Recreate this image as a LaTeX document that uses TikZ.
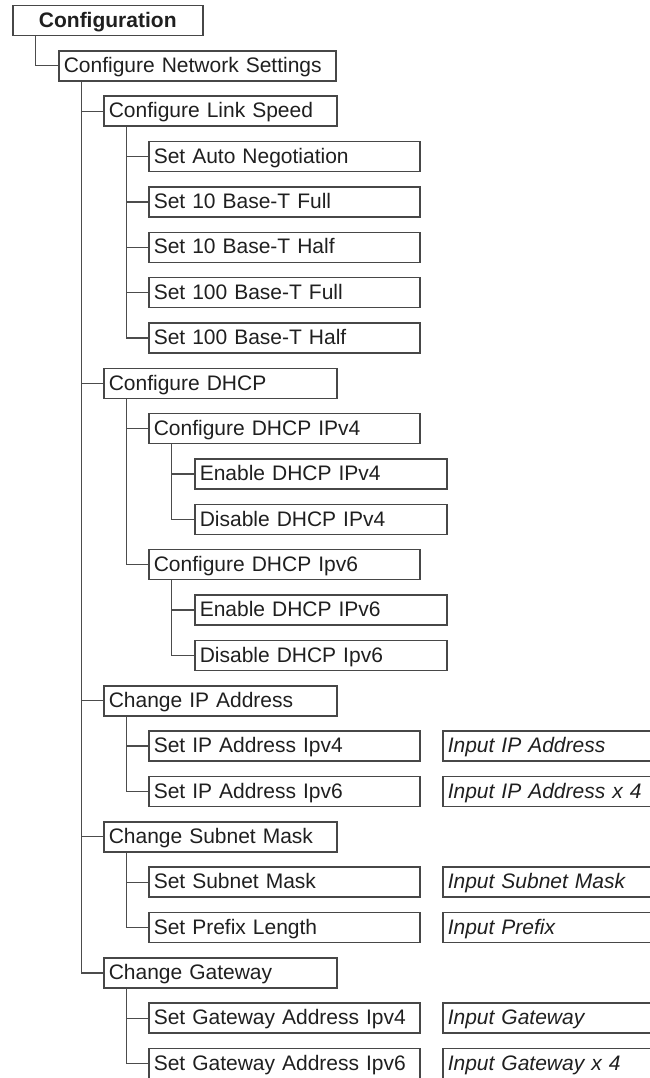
\documentclass[tikz,border=0pt]{standalone}
\usepackage{fontspec}
\setmainfont{Liberation Sans}
\begin{document}
\begin{tikzpicture}[x=1pt,y=-1pt,
  linecol/.style={draw=black!70},
  box/.style={draw=black!72, line width=1.5pt, anchor=west, minimum height=30pt,
    inner xsep=5pt, inner ysep=0pt, align=left, text height=18pt, text depth=4.6pt,
    font=\fontsize{21}{24}\selectfont, text=black!88},
  wzero/.style={text width=180pt, align=center, font=\fontsize{21}{24}\selectfont\bfseries},
  wone/.style={text width=267pt},
  wtwo/.style={text width=223pt},
  wthree/.style={text width=261pt},
  wfour/.style={text width=242pt},
  winput/.style={text width=230pt, font=\fontsize{21}{24}\selectfont\itshape},
  conn/.style={draw=black!70, line width=1.3pt}
]
\useasboundingbox (0,0) rectangle (650,1078);
\clip (0,0) rectangle (650,1078);
\def\ry#1{20.5+45.35*#1}
% nodes
\node[box,wzero] (cfg) at (12,{\ry{0}}) {Configuration};
\node[box,wone] (cns) at (58,{\ry{1}}) {Configure Network Settings};
\node[box,wtwo] (cls) at (103,{\ry{2}}) {Configure Link Speed};
\node[box,wthree] (san) at (148,{\ry{3}}) {Set Auto Negotiation};
\node[box,wthree] (tf) at (148,{\ry{4}}) {Set 10 Base-T Full};
\node[box,wthree] (th) at (148,{\ry{5}}) {Set 10 Base-T Half};
\node[box,wthree] (hf) at (148,{\ry{6}}) {Set 100 Base-T Full};
\node[box,wthree] (hh) at (148,{\ry{7}}) {Set 100 Base-T Half};
\node[box,wtwo] (dhcp) at (103,{\ry{8}}) {Configure DHCP};
\node[box,wthree] (dfour) at (148,{\ry{9}}) {Configure DHCP IPv4};
\node[box,wfour] (efour) at (194,{\ry{10}}) {Enable DHCP IPv4};
\node[box,wfour] (xfour) at (194,{\ry{11}}) {Disable DHCP IPv4};
\node[box,wthree] (dsix) at (148,{\ry{12}}) {Configure DHCP Ipv6};
\node[box,wfour] (esix) at (194,{\ry{13}}) {Enable DHCP IPv6};
\node[box,wfour] (xsix) at (194,{\ry{14}}) {Disable DHCP Ipv6};
\node[box,wtwo] (cip) at (103,{\ry{15}}) {Change IP Address};
\node[box,wthree] (ipfour) at (148,{\ry{16}}) {Set IP Address Ipv4};
\node[box,wthree] (ipsix) at (148,{\ry{17}}) {Set IP Address Ipv6};
\node[box,wtwo] (csm) at (103,{\ry{18}}) {Change Subnet Mask};
\node[box,wthree] (ssm) at (148,{\ry{19}}) {Set Subnet Mask};
\node[box,wthree] (spl) at (148,{\ry{20}}) {Set Prefix Length};
\node[box,wtwo] (cgw) at (103,{\ry{21}}) {Change Gateway};
\node[box,wthree] (gwfour) at (148,{\ry{22}}) {Set Gateway Address Ipv4};
\node[box,wthree] (gwsix) at (148,{\ry{23}}) {Set Gateway Address Ipv6};
% inputs
\node[box,winput] (inipfour) at (442,{\ry{16}}) {Input IP Address};
\node[box,winput] (inipsix) at (442,{\ry{17}}) {Input IP Address x 4};
\node[box,winput] (inssm) at (442,{\ry{19}}) {Input Subnet Mask};
\node[box,winput] (inspl) at (442,{\ry{20}}) {Input Prefix};
\node[box,winput] (ingwfour) at (442,{\ry{22}}) {Input Gateway};
\node[box,winput] (ingwsix) at (442,{\ry{23}}) {Input Gateway x 4};
% connectors
\foreach \p/\c in {cfg/cns, cns/cls, cns/dhcp, cns/cip, cns/csm, cns/cgw,
  cls/san, cls/tf, cls/th, cls/hf, cls/hh,
  dhcp/dfour, dhcp/dsix, dfour/efour, dfour/xfour, dsix/esix, dsix/xsix,
  cip/ipfour, cip/ipsix, csm/ssm, csm/spl, cgw/gwfour, cgw/gwsix}
  \draw[conn] ([xshift=23.5pt]\p.south west) |- (\c.west);
\end{tikzpicture}
\end{document}
